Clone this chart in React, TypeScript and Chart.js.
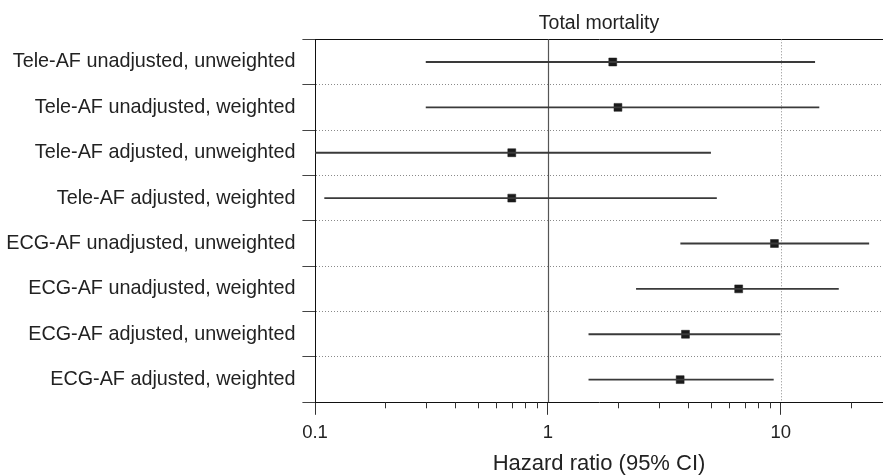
import React, { useEffect, useRef } from 'react';
import { Chart, registerables } from 'chart.js';

Chart.register(...registerables);

const categories = [
  'Tele-AF unadjusted, unweighted',
  'Tele-AF unadjusted, weighted',
  'Tele-AF adjusted, unweighted',
  'Tele-AF adjusted, weighted',
  'ECG-AF unadjusted, unweighted',
  'ECG-AF unadjusted, weighted',
  'ECG-AF adjusted, unweighted',
  'ECG-AF adjusted, weighted',
];
const hazardRatio = [1.9, 2.0, 0.7, 0.7, 9.4, 6.6, 3.9, 3.7];
const ciLower = [0.3, 0.3, 0.1, 0.11, 3.72, 2.4, 1.5, 1.5];
const ciUpper = [14.0, 14.6, 5.0, 5.3, 23.9, 17.7, 9.93, 9.3];

const xMin = 0.1;
const xMax = 27.5;
const xMajorTicks = [0.1, 1, 10];
const xTickLabels = ['0.1', '1', '10'];
const xMinorTicks = [0.2, 0.3, 0.4, 0.5, 0.6, 0.7, 0.8, 0.9, 2, 3, 4, 5, 6, 7, 8, 9, 20];
const referenceValue = 1;
const dottedGridValues = [10];

const chartTitle = 'Total mortality';
const xAxisTitle = 'Hazard ratio (95% CI)';

const FONT = "'Liberation Sans', Arial, Helvetica, sans-serif";

const forestPlugin = {
  id: 'forestExtras',
  beforeDatasetsDraw(chart: any) {
    const { ctx, chartArea, scales } = chart;
    const x = scales.x;
    ctx.save();
    ctx.lineWidth = 1;
    ctx.strokeStyle = '#8a8a8a';
    ctx.setLineDash([1, 2]);
    dottedGridValues.forEach((v) => {
      const px = Math.round(x.getPixelForValue(v)) + 0.5;
      ctx.beginPath();
      ctx.moveTo(px, chartArea.top);
      ctx.lineTo(px, chartArea.bottom);
      ctx.stroke();
    });
    ctx.setLineDash([]);
    ctx.strokeStyle = '#555';
    ctx.lineWidth = 1.2;
    const p1 = Math.round(x.getPixelForValue(referenceValue)) + 0.5;
    ctx.beginPath();
    ctx.moveTo(p1, chartArea.top);
    ctx.lineTo(p1, chartArea.bottom);
    ctx.stroke();
    ctx.restore();
  },
  afterDraw(chart: any) {
    const { ctx, chartArea, scales } = chart;
    const x = scales.x;
    ctx.save();
    ctx.strokeStyle = '#333';
    ctx.lineWidth = 1;
    xMinorTicks.forEach((v) => {
      const px = Math.round(x.getPixelForValue(v)) + 0.5;
      ctx.beginPath();
      ctx.moveTo(px, chartArea.bottom);
      ctx.lineTo(px, chartArea.bottom + 6);
      ctx.stroke();
    });
    ctx.restore();
  },
};

export default function App() {
  const canvasRef = useRef<HTMLCanvasElement | null>(null);

  useEffect(() => {
    document.body.style.margin = '0';
    const canvas = canvasRef.current;
    if (!canvas) return;
    const chart = new Chart(canvas, {
      type: 'bar',
      data: {
        labels: categories,
        datasets: [
          {
            type: 'bar',
            label: '95% CI',
            data: ciLower.map((lo, i) => [lo, ciUpper[i]]),
            backgroundColor: '#3a3a3a',
            borderWidth: 0,
            barThickness: 1.3,
            xAxisID: 'x',
            yAxisID: 'y',
          } as any,
          {
            type: 'line',
            label: 'Hazard ratio',
            data: hazardRatio,
            indexAxis: 'y',
            showLine: false,
            pointStyle: 'rect',
            pointRadius: 5.6,
            pointBackgroundColor: '#1a1a1a',
            pointBorderColor: '#1a1a1a',
            pointBorderWidth: 0.5,
            xAxisID: 'x',
            yAxisID: 'y',
          } as any,
        ],
      },
      options: {
        indexAxis: 'y',
        responsive: false,
        animation: false,
        events: [],
        layout: { padding: 0, autoPadding: false },
        plugins: {
          legend: { display: false },
          title: { display: false },
          tooltip: { enabled: false },
        },
        scales: {
          x: {
            type: 'logarithmic',
            position: 'bottom',
            min: xMin,
            max: xMax,
            afterBuildTicks: (scale: any) => {
              scale.ticks = xMajorTicks.map((v) => ({ value: v, major: true }));
            },
            afterFit: (scale: any) => {
              scale.height = 72.7;
            },
            ticks: {
              autoSkip: false,
              maxRotation: 0,
              padding: 7,
              color: '#222',
              font: { family: FONT, size: 18.5 },
              callback: (value: any) => {
                const idx = xMajorTicks.findIndex((v) => Math.abs(v - Number(value)) < 1e-9);
                return idx >= 0 ? xTickLabels[idx] : '';
              },
            },
            grid: {
              display: true,
              drawOnChartArea: false,
              drawTicks: true,
              tickLength: 12.5,
              tickColor: '#333',
              tickWidth: 1,
            },
            border: { display: true, color: '#111', width: 1 },
            title: {
              display: true,
              text: xAxisTitle,
              color: '#222',
              font: { family: FONT, size: 22, lineHeight: 1 },
              padding: { top: 0, bottom: 0 },
            },
          } as any,
          x2: {
            type: 'linear',
            position: 'top',
            min: 0,
            max: 1,
            afterFit: (scale: any) => {
              scale.height = 39.3;
            },
            ticks: { display: false },
            grid: { display: true, drawOnChartArea: false, drawTicks: false },
            border: { display: true, color: '#111', width: 1 },
            title: {
              display: true,
              text: chartTitle,
              color: '#222',
              font: { family: FONT, size: 19.5, lineHeight: 1.2 },
              padding: { top: 11.9, bottom: 0 },
            },
          } as any,
          y: {
            type: 'category',
            position: 'left',
            offset: true,
            afterFit: (scale: any) => {
              scale.width = 315;
            },
            ticks: {
              padding: 7,
              color: '#222',
              font: { family: FONT, size: 19.8 },
            },
            grid: {
              display: true,
              offset: true,
              drawOnChartArea: true,
              color: '#8a8a8a',
              lineWidth: 1,
              drawTicks: true,
              tickLength: 12.6,
              tickColor: '#444',
              tickWidth: 1,
              tickBorderDash: [],
            },
            border: { display: true, color: '#111', width: 1, dash: [1, 2] },
          } as any,
        },
      },
      plugins: [forestPlugin],
    });
    return () => {
      chart.destroy();
    };
  }, []);

  return (
    <div style={{ width: 883, height: 475 }}>
      <canvas ref={canvasRef} width={883} height={475} style={{ display: 'block' }} />
    </div>
  );
}
